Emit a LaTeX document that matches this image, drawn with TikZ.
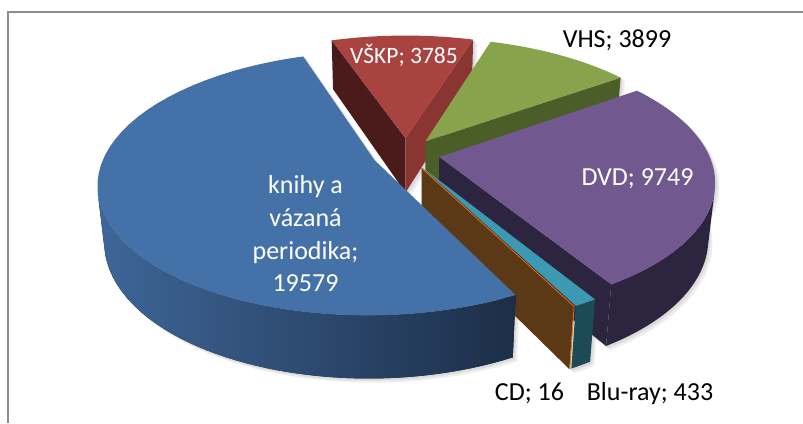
\documentclass[tikz,border=0pt]{standalone}
\usepackage{fontspec}
\setmainfont{Carlito}
\definecolor{frameg}{HTML}{8C8C8C}
\definecolor{kTop}{HTML}{4471A7}
\definecolor{kSideL}{HTML}{3E6698}
\definecolor{kSideR}{HTML}{1C2E48}
\definecolor{vTop}{HTML}{A8433F}
\definecolor{vLeft}{HTML}{4A1B1A}
\definecolor{vRight}{HTML}{8B3532}
\definecolor{hTop}{HTML}{87A44D}
\definecolor{hFace}{HTML}{4B5E27}
\definecolor{dTop}{HTML}{71588F}
\definecolor{dFace}{HTML}{2D2440}
\definecolor{bTop}{HTML}{3D98B1}
\definecolor{bSide}{HTML}{1C4B56}
\definecolor{cFace}{HTML}{5B3917}
\definecolor{cEdge}{HTML}{E46C0A}
\tikzset{
 declare function={
  ff(\y,\z)=1+(0.884*\y-0.4668*\z)/5.05;
  px(\x,\y,\z)=405.9+269.3*\x/ff(\y,\z);
  py(\x,\y,\z)=153.8-269.3*(0.4668*\y+0.884*\z)/ff(\y,\z);
  qx(\m,\w,\n,\z)=px(0.126*sin(\m)+\n*sin(\w),0.126*cos(\m)+\n*cos(\w),\z);
  qy(\m,\w,\n,\z)=py(0.126*sin(\m)+\n*sin(\w),0.126*cos(\m)+\n*cos(\w),\z);
 },
 lbl/.style={font=\fontsize{26}{32}\selectfont, inner sep=0pt, anchor=base},
 lblw/.style={lbl, text=white},
 lblb/.style={lbl, text=black},
 cdedge/.style={draw=cEdge, line width=0.9pt, line join=round},
 shadowA/.style={fill=black!7, shift={(4,4)}},
 shadowB/.style={fill=black!14, shift={(2,2)}},
}
\newcommand\pietop[4]{\fill[#4] ({qx(#1,0,0,0)},{qy(#1,0,0,0)}) -- plot[domain=#2:#3,samples=50,variable=\ang] ({qx(#1,\ang,1,0)},{qy(#1,\ang,1,0)}) -- cycle;}
\newcommand\piebottom[4]{\fill[#4] ({qx(#1,0,0,-0.237)},{qy(#1,0,0,-0.237)}) -- plot[domain=#2:#3,samples=50,variable=\ang] ({qx(#1,\ang,1,-0.237)},{qy(#1,\ang,1,-0.237)}) -- cycle;}
\newcommand\pieface[3]{\fill[#3] ({qx(#1,0,0,0)},{qy(#1,0,0,0)}) -- ({qx(#1,#2,1,0)},{qy(#1,#2,1,0)}) -- ({qx(#1,#2,1,-0.237)},{qy(#1,#2,1,-0.237)}) -- ({qx(#1,0,0,-0.237)},{qy(#1,0,0,-0.237)}) -- cycle;}
\newcommand\pieside[4]{\fill[#4] plot[domain=#2:#3,samples=50,variable=\ang] ({qx(#1,\ang,1,0)},{qy(#1,\ang,1,0)}) -- plot[domain=#3:#2,samples=50,variable=\ang] ({qx(#1,\ang,1,-0.237)},{qy(#1,\ang,1,-0.237)}) -- cycle;}
\newcommand\pieshadow[4]{%
  \piebottom{#1}{#2}{#3}{#4}\pietop{#1}{#2}{#3}{#4}%
  \pieside{#1}{#2}{#3}{#4}\pieface{#1}{#2}{#4}\pieface{#1}{#3}{#4}}
\begin{document}
\begin{tikzpicture}[x=1pt,y=-1pt]
\useasboundingbox (0,0) rectangle (803,423);
\fill[white] (0,0) rectangle (803,423);
\draw[frameg, line width=2pt] (8,423) -- (8,12) -- (803,12);
% soft shadows
\foreach \sty in {shadowA,shadowB}{
  \pieshadow{-0.813}{-19}{17.374}{\sty}
  \pieshadow{36.109}{17.374}{54.844}{\sty}
  \pieshadow{101.689}{54.844}{148.533}{\sty}
  \pieshadow{151.0}{148.533}{152.848}{\sty}
  \pieshadow{246.926}{152.848}{341.003}{\sty}
}
% VSKP
\pieface{-0.813}{-19}{vLeft}
\pieface{-0.813}{17.374}{vRight}
\pietop{-0.813}{-19}{17.374}{vTop}
% VHS
\pieface{36.109}{54.844}{hFace}
\pietop{36.109}{17.374}{54.844}{hTop}
% DVD
\pieface{101.689}{148.533}{dFace}
\pieside{101.689}{104.6}{148.533}{dFace}
\pietop{101.689}{54.844}{148.533}{dTop}
% Blu-ray
\pieside{150.614}{148.533}{152.694}{bSide}
\pietop{150.614}{148.533}{152.694}{bTop}
% CD
\pieface{152.771}{152.848}{cFace}
\draw[cdedge] ({qx(152.771,0,0,0)},{qy(152.771,0,0,0)}) -- ({qx(152.771,152.77,1,0)},{qy(152.771,152.77,1,0)}) -- ({qx(152.771,152.77,1,-0.237)},{qy(152.771,152.77,1,-0.237)});
% knihy
\pieside{246.926}{152.848}{255.3}{left color=kSideL,right color=kSideR}
\pietop{246.926}{152.848}{341.003}{kTop}
% labels
\node[lblw, font=\fontsize{23.5}{28}\selectfont] (vskp) at (404,63) {VŠKP; 3785};
\node[lblb] (vhs) at (617,47) {VHS; 3899};
\node[lblw] (dvd) at (637.5,185) {DVD; 9749};
\node[lblw] (k1) at (305.5,193) {knihy a};
\node[lblw] (k2) at (305.5,226) {vázaná};
\node[lblw] (k3) at (305.5,259) {periodika;};
\node[lblw] (k4) at (305.5,291) {19579};
\node[lblb] (cd) at (529.5,400) {CD; 16};
\node[lblb] (blu) at (650,400) {Blu-ray; 433};
\end{tikzpicture}
\end{document}
